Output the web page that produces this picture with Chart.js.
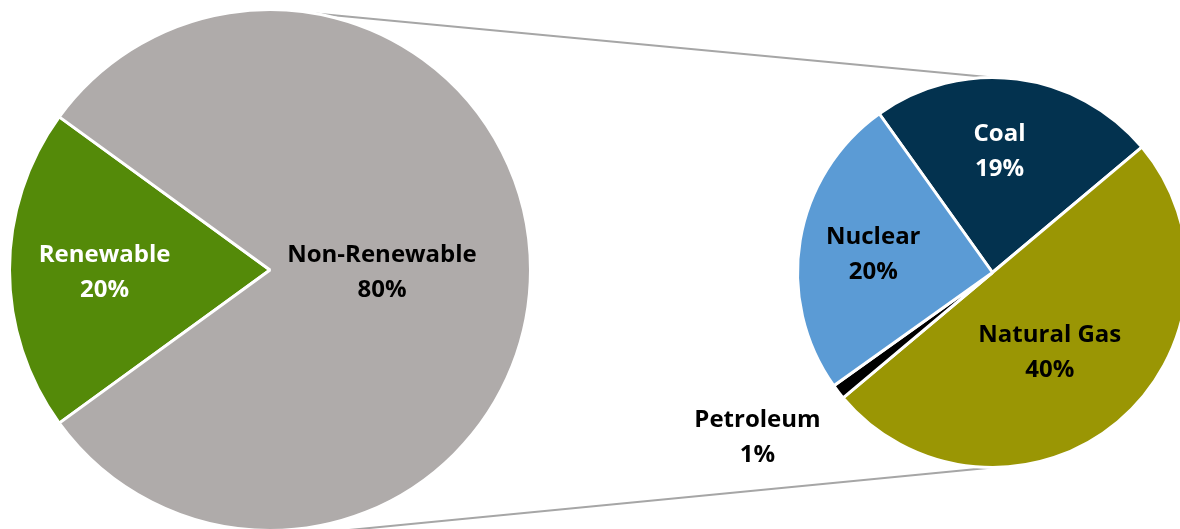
<!DOCTYPE html>
<html>
<head>
<meta charset="utf-8">
<script src="https://cdn.jsdelivr.net/npm/chart.js@4.4.1/dist/chart.umd.min.js"></script>
<style>
  html, body { margin: 0; padding: 0; background: #fff; overflow: hidden; }
  #stage { position: relative; width: 1180px; height: 529px; overflow: hidden; }
  #lines { position: absolute; left: 0; top: 0; }
  .pie { position: absolute; }
  #mainBox { left: 8px; top: 8px; width: 524px; height: 524px; }
  #splitBox { left: 660px; top: 0px; width: 529px; height: 545px; }
</style>
</head>
<body>
<div id="stage">
  <canvas id="lines" width="1180" height="529"></canvas>
  <div class="pie" id="mainBox"><canvas id="mainPie"></canvas></div>
  <div class="pie" id="splitBox"><canvas id="splitPie"></canvas></div>
</div>
<script>
// ---- data ----
const mainLabels = ['Renewable', 'Non-Renewable'];
const mainValues = [20, 80];
const splitLabels = ['Coal', 'Natural Gas', 'Petroleum', 'Nuclear'];
const splitValues = [19, 40, 1, 20];

// ---- styles ----
const mainColors = ['#548A09', '#AFABAA'];
const mainTextColors = ['#FFFFFF', '#000000'];
const mainLabelRadius = [0.635, 0.43];
const mainLabelShift = [0, 0];
const splitColors = ['#03324F', '#9A9604', '#000000', '#5B9BD5'];
const splitTextColors = ['#FFFFFF', '#000000', '#000000', '#000000'];
const splitLabelRadius = [0.636, 0.495, 1.467, 0.62];
const splitLabelShift = [-4, 3.6, 3, 0];   // degrees

const FONT = "bold 24px 'Open Sans', Lato, sans-serif";

function sliceLabels(textColors, radii, shifts) {
  return {
    id: 'sliceLabels',
    afterDatasetsDraw(chart) {
      const { ctx } = chart;
      const meta = chart.getDatasetMeta(0);
      const values = chart.data.datasets[0].data;
      ctx.save();
      ctx.font = FONT;
      ctx.textAlign = 'center';
      ctx.textBaseline = 'middle';
      meta.data.forEach((arc, i) => {
        const mid = (arc.startAngle + arc.endAngle) / 2 + shifts[i] * Math.PI / 180;
        const r = arc.outerRadius * radii[i];
        const x = arc.x + Math.cos(mid) * r;
        const y = arc.y + Math.sin(mid) * r;
        ctx.fillStyle = textColors[i];
        ctx.fillText(chart.data.labels[i], x, y - 15);
        ctx.fillText(values[i] + '%', x, y + 20);
      });
      ctx.restore();
    },
  };
}

function pieOptions(rotation, padding) {
  return {
    responsive: true, maintainAspectRatio: false, animation: false,
    rotation: rotation,
    layout: { padding: padding },
    plugins: { legend: { display: false }, tooltip: { enabled: false } },
    events: [],
  };
}

// Renewable slice centred on the left
const mainChart = new Chart(document.getElementById('mainPie'), {
  type: 'pie',
  data: {
    labels: mainLabels,
    datasets: [{ data: mainValues, backgroundColor: mainColors, borderColor: '#FFFFFF', borderWidth: 3 }],
  },
  options: pieOptions(234, 0),
  plugins: [sliceLabels(mainTextColors, mainLabelRadius, mainLabelShift)],
});

// extra padding keeps room for the outside Petroleum label
const splitChart = new Chart(document.getElementById('splitPie'), {
  type: 'pie',
  data: {
    labels: splitLabels,
    datasets: [{ data: splitValues, backgroundColor: splitColors, borderColor: '#FFFFFF', borderWidth: 3 }],
  },
  options: pieOptions(324.5, { left: 136, top: 76, right: 0, bottom: 76 }),
  plugins: [sliceLabels(splitTextColors, splitLabelRadius, splitLabelShift)],
});

// ---- connector lines between the two pies ----
function drawConnectors() {
  const a = mainChart.getDatasetMeta(0).data[0];
  const b = splitChart.getDatasetMeta(0).data[0];
  const ax = a.x + 8, ay = a.y + 8, ar = a.outerRadius;
  const bx = b.x + 660, by = b.y, br = b.outerRadius;
  const ctx = document.getElementById('lines').getContext('2d');
  const deg = Math.PI / 180;
  ctx.strokeStyle = '#A6A6A6';
  ctx.lineWidth = 2;
  ctx.beginPath();
  ctx.moveTo(ax + Math.cos(-80 * deg) * ar, ay + Math.sin(-80 * deg) * ar);
  ctx.lineTo(bx, by - br);
  ctx.moveTo(ax + Math.cos(74 * deg) * ar * 1.04, ay + Math.sin(74 * deg) * ar * 1.04);
  ctx.lineTo(bx, by + br);
  ctx.stroke();
}
drawConnectors();
</script>
</body>
</html>
